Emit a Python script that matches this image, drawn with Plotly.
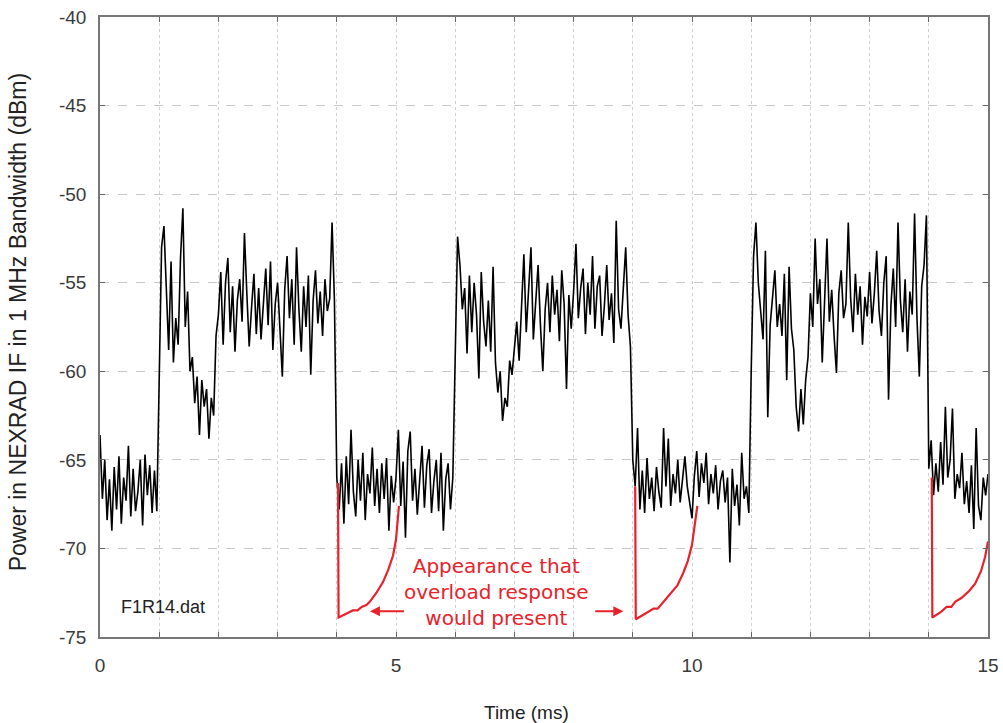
import plotly.graph_objects as go

# ---------------- data ----------------
SAMPLE_STEP_MS = 0.04  # one sample every 0.04 ms, 25 samples per millisecond

# Power (dBm) per millisecond block, 25 samples each
power_by_ms = [
    [-63.6, -67.2, -65.0, -68.4, -66.1, -69.0, -65.4, -67.8, -64.8, -68.6, -66.0, -67.3, -64.2, -68.2, -65.5, -67.9, -66.8, -65.0, -68.7, -64.7, -67.0, -65.3, -68.0, -65.6, -67.9],
    [-61.0, -53.0, -51.8, -55.5, -58.8, -53.8, -59.5, -57.0, -58.5, -53.6, -50.8, -57.5, -55.5, -60.0, -59.2, -61.8, -60.3, -63.6, -60.5, -62.0, -61.0, -63.8, -61.5, -62.5, -58.0],
    [-56.8, -54.4, -58.5, -55.0, -53.6, -57.8, -55.2, -58.9, -56.0, -54.8, -57.2, -52.2, -55.6, -58.6, -56.4, -54.5, -57.9, -55.3, -58.2, -56.0, -54.2, -57.4, -53.8, -58.8, -56.2],
    [-55.0, -57.6, -60.3, -55.4, -53.5, -57.0, -54.8, -58.5, -53.0, -56.5, -58.9, -55.2, -57.5, -54.6, -60.2, -56.0, -54.3, -57.3, -55.5, -58.0, -54.8, -56.6, -55.9, -51.6, -56.0],
    [-66.0, -67.8, -65.2, -68.6, -64.8, -67.5, -63.3, -66.8, -68.2, -65.0, -67.3, -64.6, -68.4, -65.8, -66.9, -64.3, -67.6, -65.5, -68.0, -65.2, -67.2, -64.9, -69.0, -65.9, -67.4],
    [-66.0, -63.3, -67.6, -65.1, -69.4, -64.5, -63.4, -67.3, -65.5, -68.1, -66.0, -64.2, -67.7, -65.3, -64.4, -68.0, -66.2, -65.0, -67.9, -64.6, -69.0, -66.1, -65.2, -67.8, -66.0],
    [-58.0, -52.4, -54.0, -56.5, -55.3, -59.0, -54.6, -57.8, -55.0, -56.8, -60.4, -54.4, -57.2, -58.6, -56.0, -58.9, -54.1, -59.5, -61.2, -60.0, -62.8, -61.5, -62.0, -59.4, -60.2],
    [-58.8, -57.2, -59.4, -56.0, -53.4, -57.8, -55.5, -53.0, -58.2, -55.8, -54.0, -57.4, -60.0, -56.5, -55.0, -57.8, -54.6, -56.8, -55.4, -58.3, -54.3, -56.2, -61.0, -55.7, -57.6],
    [-55.5, -52.8, -57.0, -55.3, -54.2, -57.9, -55.0, -56.8, -53.5, -57.6, -55.2, -54.6, -58.0, -56.3, -54.0, -57.1, -55.6, -58.4, -51.5, -56.5, -57.6, -55.0, -53.0, -56.8, -58.6],
    [-65.0, -66.5, -63.2, -67.8, -65.6, -68.0, -64.9, -67.2, -66.0, -67.9, -65.4, -66.8, -67.7, -63.2, -66.5, -63.8, -67.6, -65.8, -66.9, -65.0, -67.4, -66.2, -64.8, -66.5, -67.3],
    [-68.3, -65.9, -64.5, -67.1, -65.2, -66.3, -64.6, -67.5, -65.8, -66.9, -65.3, -67.8, -66.2, -65.6, -67.4, -66.0, -70.8, -65.5, -67.6, -66.4, -68.7, -64.6, -67.2, -66.5, -68.0],
    [-60.0, -53.5, -51.6, -55.0, -56.6, -58.2, -53.2, -62.6, -57.4, -55.8, -54.3, -57.5, -56.2, -58.0, -54.5, -60.5, -54.1, -57.6, -58.8, -62.0, -63.4, -61.0, -63.0, -60.5, -59.2],
    [-55.6, -57.5, -52.5, -56.2, -54.8, -59.5, -56.0, -52.5, -57.2, -55.4, -58.0, -60.1, -55.6, -54.3, -57.0, -56.2, -51.6, -55.9, -57.8, -54.5, -56.8, -55.2, -58.5, -55.8, -56.9],
    [-54.4, -57.3, -55.6, -53.2, -56.6, -58.0, -55.0, -53.5, -61.6, -56.3, -54.2, -57.5, -51.6, -56.0, -57.8, -54.8, -58.9, -55.5, -56.8, -51.1, -57.0, -60.3, -55.2, -54.0, -51.2],
    [-65.5, -63.9, -67.0, -65.2, -66.8, -64.0, -66.4, -62.0, -66.0, -65.0, -62.1, -67.2, -65.8, -66.6, -64.6, -67.5, -66.2, -68.0, -65.3, -68.9, -63.2, -67.6, -68.4, -66.0, -67.0],
]
power_at_15ms = -65.8

# Red "overload response" curves
overload1_t = [4.02, 4.03, 4.15, 4.27, 4.35, 4.42, 4.50, 4.56, 4.67, 4.78, 4.87, 4.95, 5.00, 5.03, 5.05]
overload1_p = [-66.3, -73.9, -73.7, -73.5, -73.5, -73.3, -73.2, -73.0, -72.5, -71.9, -71.2, -70.4, -69.5, -68.5, -67.6]
overload2_t = [9.04, 9.05, 9.20, 9.35, 9.42, 9.50, 9.62, 9.75, 9.85, 9.93, 10.00, 10.05, 10.09]
overload2_p = [-66.5, -74.0, -73.7, -73.4, -73.4, -73.1, -72.6, -72.1, -71.4, -70.7, -69.8, -68.7, -67.6]
overload3_t = [14.05, 14.06, 14.20, 14.30, 14.38, 14.45, 14.55, 14.68, 14.78, 14.88, 14.95, 15.00]
overload3_p = [-66.0, -73.9, -73.6, -73.3, -73.3, -73.0, -72.8, -72.4, -72.0, -71.3, -70.5, -69.6]

x_tick_vals = [0, 5, 10, 15]
x_tick_text = ["0", "5", "10", "15"]
y_tick_vals = [-75, -70, -65, -60, -55, -50, -45, -40]
y_tick_text = ["-75", "-70", "-65", "-60", "-55", "-50", "-45", "-40"]

# ---------------- build the time series ----------------
time_ms = []
power_dbm = []
for block, row in enumerate(power_by_ms):
    for k, v in enumerate(row):
        time_ms.append(round(block + k * SAMPLE_STEP_MS, 4))
        power_dbm.append(v)
time_ms.append(15.0)
power_dbm.append(power_at_15ms)

RED = "#e8222b"
FONT = "Liberation Sans, Arial, sans-serif"
TICK_COLOR = "#3a3a3a"

fig = go.Figure()
fig.add_trace(go.Scatter(x=time_ms, y=power_dbm, mode="lines",
                         line=dict(color="black", width=1.6), showlegend=False))
for tt, pp in [(overload1_t, overload1_p), (overload2_t, overload2_p), (overload3_t, overload3_p)]:
    fig.add_trace(go.Scatter(x=tt, y=pp, mode="lines",
                             line=dict(color=RED, width=2.2), showlegend=False))

fig.update_xaxes(
    range=[0, 15], tickvals=x_tick_vals, ticktext=x_tick_text,
    ticks="inside", ticklen=5, tickcolor="#666",
    showline=True, linecolor="#777", linewidth=1.5, mirror="ticks",
    tickfont=dict(family=FONT, size=19, color=TICK_COLOR), ticklabelstandoff=10,
    zeroline=False, automargin=False,
    showgrid=True, gridcolor="#d0d0d0", gridwidth=1, griddash="dot",
    minor=dict(dtick=1, ticks="inside", ticklen=5, tickcolor="#666",
               showgrid=True, gridcolor="#d0d0d0", griddash="dot"),
)
fig.update_yaxes(
    range=[-75, -40], tickvals=y_tick_vals, ticktext=y_tick_text,
    ticks="inside", ticklen=5, tickcolor="#666",
    showline=True, linecolor="#777", linewidth=1.5, mirror="ticks",
    tickfont=dict(family=FONT, size=19, color=TICK_COLOR), ticklabelstandoff=8,
    zeroline=False, automargin=False,
    showgrid=True, gridcolor="#c8c8c8", gridwidth=1, griddash="dash",
)

annotations = [
    dict(text="Time (ms)", xref="paper", yref="paper", x=0.48, y=-0.122,
         xanchor="center", yanchor="middle", showarrow=False,
         font=dict(family=FONT, size=19, color="#222")),
    dict(text="Power in NEXRAD IF in 1 MHz Bandwidth (dBm)", xref="paper", yref="paper",
         x=-0.092, y=0.508, xanchor="center", yanchor="middle", textangle=-90,
         showarrow=False, font=dict(family=FONT, size=23, color="#222")),
    dict(text="F1R14.dat", x=0.32, y=-73.3, xref="x", yref="y", xanchor="left",
         yanchor="middle", showarrow=False, font=dict(family=FONT, size=18, color="#222")),
    dict(text="Appearance that<br>overload response<br>would present", x=6.7, y=-72.45,
         xref="x", yref="y", xanchor="center", yanchor="middle", showarrow=False,
         font=dict(family="DejaVu Sans, sans-serif", size=20, color=RED)),
    dict(text="", x=4.56, y=-73.55, ax=5.16, ay=-73.55, xref="x", yref="y",
         axref="x", ayref="y", showarrow=True, arrowhead=2, arrowsize=1,
         arrowwidth=2, arrowcolor=RED),
    dict(text="", x=8.84, y=-73.55, ax=8.34, ay=-73.55, xref="x", yref="y",
         axref="x", ayref="y", showarrow=True, arrowhead=2, arrowsize=1,
         arrowwidth=2, arrowcolor=RED),
]

fig.update_layout(
    width=1003, height=723,
    margin=dict(l=100, r=15, t=17, b=86),
    paper_bgcolor="white", plot_bgcolor="white",
    annotations=annotations, showlegend=False,
)

fig.write_html(
    "out.html",
    config={"displayModeBar": False},
    post_script="document.body.style.margin='0';document.body.style.overflow='hidden';",
)
